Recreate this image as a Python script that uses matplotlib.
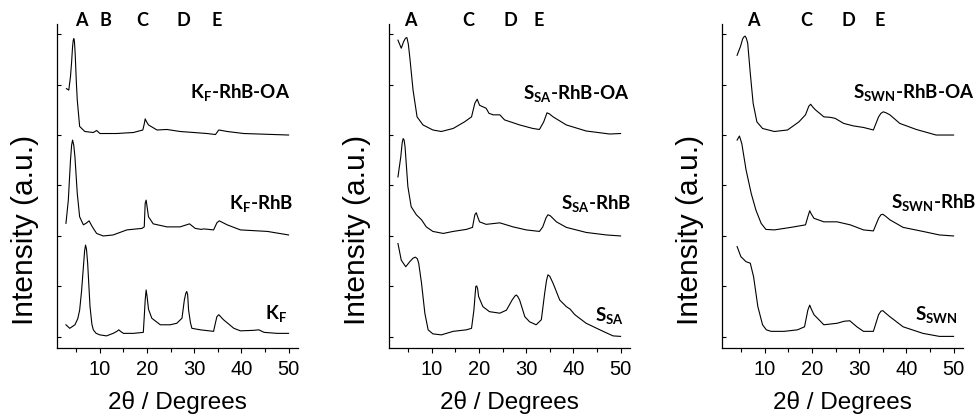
import matplotlib
matplotlib.use("Agg")
import matplotlib.pyplot as plt
from matplotlib.ticker import MultipleLocator
import matplotlib.transforms as mtransforms

# ---- data (2theta in degrees, intensity in a.u., curves already stacked) ----
kf_x = [2.8, 3.6, 4.7, 5.3, 5.7, 6.1, 6.5, 6.75, 6.95, 7.15, 7.4, 7.9, 8.3, 8.6, 9.2, 10, 11.4, 12.8,
        13.6, 14.0, 14.5, 15, 17.1, 19.2, 19.4, 19.6, 19.8, 20.0, 20.3, 21, 22.8, 24.9, 26.3, 27.4,
        27.9, 28.2, 28.4, 28.6, 28.8, 29.2, 29.5, 31.3, 34.1, 34.5, 34.8, 35.2, 36.2, 38.4,
        39.8, 42.6, 43.7, 44.8, 47.6, 50]
kf_y = [0.24, 0.17, 0.24, 0.36, 0.53, 0.90, 1.39, 1.70, 1.82, 1.74, 1.46, 0.60, 0.25, 0.14, 0.07,
        0.04, 0.02, 0.07, 0.11, 0.14, 0.10, 0.07, 0.07, 0.09, 0.40, 0.73, 0.93, 0.80, 0.55, 0.37,
        0.24, 0.24, 0.27, 0.37, 0.73, 0.86, 0.90, 0.84, 0.53, 0.28, 0.17, 0.14, 0.11, 0.28, 0.40,
        0.44, 0.34, 0.17, 0.12, 0.13, 0.14, 0.09, 0.07, 0.07]

kf_rhb_x = [2.8, 3.3, 3.76, 4.0, 4.2, 4.45, 4.7, 5.2, 5.7, 6.5, 7.2, 7.7, 8.4, 9.3, 10.7, 12.8, 15.7,
            18.9, 19.4, 19.6, 19.8, 20.0, 20.3, 21.3, 24.2, 27, 29, 30.2, 31.5, 32, 34.1, 34.5, 34.8,
            35.3, 37, 39.8, 45.5, 50]
kf_rhb_y = [2.25, 2.71, 3.50, 3.80, 3.90, 3.80, 3.57, 2.84, 2.38, 2.22, 2.26, 2.30, 2.18, 2.05, 2.00,
            2.02, 2.12, 2.15, 2.18, 2.65, 2.71, 2.58, 2.38, 2.24, 2.18, 2.18, 2.24, 2.15, 2.13, 2.14,
            2.12, 2.20, 2.26, 2.30, 2.22, 2.12, 2.09, 2.02]

kf_oa_x = [2.9, 3.4, 3.76, 4.0, 4.2, 4.35, 4.47, 4.6, 4.75, 5.0, 5.2, 5.7, 6.8, 8.6, 9.3, 10, 13.5,
           17.1, 19.1, 19.4, 19.6, 19.9, 20.3, 22.1, 24.2, 27, 29.9, 32.7, 34.5, 35.2, 37, 40.5, 50]
kf_oa_y = [4.92, 4.89, 5.16, 5.45, 5.75, 5.88, 5.91, 5.85, 5.62, 5.05, 4.69, 4.17, 4.07, 4.05, 4.09,
           4.03, 4.03, 4.05, 4.10, 4.22, 4.32, 4.26, 4.20, 4.10, 4.11, 4.07, 4.05, 4.03, 4.01, 4.10,
           4.07, 4.03, 4.00]

ssa_x = [2.8, 3.5, 4.45, 5.3, 6.0, 6.5, 6.9, 7.2, 7.8, 8.5, 9.2, 10.2, 12, 14.5, 17.3, 18.4, 18.9,
         19.3, 19.5, 19.7, 19.9, 20.8, 22.2, 24.4, 25.8, 27, 27.6, 27.9, 28.2, 28.6, 29.7, 30.7, 32.1,
         33.2, 33.9, 34.3, 34.6, 35.0, 35.7, 37.1, 38.5, 39.3, 40.3, 42.7, 46.3, 48.4, 50]
ssa_y = [1.85, 1.52, 1.39, 1.49, 1.56, 1.58, 1.55, 1.46, 1.06, 0.47, 0.14, 0.06, 0.04, 0.11, 0.14,
         0.17, 0.53, 1.00, 1.01, 0.95, 0.80, 0.60, 0.50, 0.47, 0.53, 0.73, 0.81, 0.83, 0.80, 0.73,
         0.40, 0.30, 0.24, 0.34, 0.86, 1.12, 1.23, 1.20, 1.06, 0.73, 0.60, 0.55, 0.44, 0.27, 0.11,
         0.02, 0.01]

ssa_rhb_x = [2.8, 3.4, 3.7, 3.9, 4.1, 4.3, 4.9, 5.6, 6.7, 7.8, 8.8, 10.2, 12.4, 14.5, 17.3, 18.6,
             19.1, 19.4, 19.7, 20.1, 21.5, 24.4, 27.2, 30, 32.8, 33.5, 34.2, 34.6, 35.1, 36.4, 38.5,
             42.7, 47, 50]
ssa_rhb_y = [3.17, 3.57, 3.85, 3.93, 3.90, 3.77, 2.98, 2.58, 2.42, 2.32, 2.18, 2.09, 2.05, 2.09,
             2.13, 2.17, 2.42, 2.46, 2.38, 2.28, 2.23, 2.26, 2.18, 2.12, 2.09, 2.18, 2.36, 2.42, 2.40,
             2.28, 2.17, 2.07, 2.02, 2.00]

ssa_oa_x = [2.8, 3.5, 4.0, 4.4, 4.7, 5.0, 5.3, 6.0, 6.85, 8.1, 10.2, 12, 14.5, 16.9, 18.4, 19.1,
            19.6, 20.1, 20.8, 21.5, 22.1, 23, 24.4, 25.4, 28.6, 31.4, 32.8, 33.7, 34.4, 34.9, 35.7,
            38.5, 42.7, 47.7, 50]
ssa_oa_y = [5.88, 5.72, 5.85, 5.92, 5.93, 5.80, 5.55, 4.89, 4.36, 4.20, 4.10, 4.07, 4.13, 4.26, 4.36,
            4.63, 4.71, 4.59, 4.56, 4.53, 4.43, 4.40, 4.40, 4.30, 4.20, 4.13, 4.11, 4.26, 4.44, 4.42,
            4.36, 4.20, 4.08, 4.02, 4.03]

sswn_x = [4.1, 4.9, 6.0, 6.9, 7.6, 8.5, 9.5, 10.3, 11.3, 14.1, 16.9, 18.4, 19.1, 19.5, 19.8, 20.4,
          22.5, 25.3, 26.8, 28, 29.5, 30.9, 33, 34.1, 34.6, 35, 35.6, 36.5, 39.3, 43.5, 47, 50]
sswn_y = [1.79, 1.59, 1.49, 1.46, 1.19, 0.60, 0.24, 0.14, 0.11, 0.11, 0.14, 0.20, 0.53, 0.63, 0.56,
          0.44, 0.24, 0.27, 0.31, 0.32, 0.20, 0.11, 0.11, 0.44, 0.51, 0.52, 0.47, 0.40, 0.20, 0.07,
          0.01, 0.01]

sswn_rhb_x = [4.1, 4.6, 5.1, 6.0, 7.1, 8.1, 9.2, 10.2, 12, 15.5, 18.6, 19.1, 19.5, 19.8, 20.4, 22.5,
              25.3, 28.1, 30.9, 33, 34.1, 34.6, 35, 35.6, 36.5, 39.3, 43.5, 47, 50]
sswn_rhb_y = [3.90, 3.98, 3.83, 3.31, 2.84, 2.51, 2.25, 2.13, 2.12, 2.17, 2.22, 2.38, 2.50, 2.44,
              2.35, 2.28, 2.28, 2.22, 2.12, 2.10, 2.35, 2.42, 2.43, 2.39, 2.32, 2.17, 2.09, 2.02, 2.00]

sswn_oa_x = [4.1, 4.8, 5.3, 5.6, 5.8, 6.05, 6.35, 6.9, 7.5, 8.3, 9.5, 12, 14.8, 17.2, 18.6, 19.3,
             19.7, 20.1, 20.7, 22.5, 23.9, 24.9, 26.7, 28.8, 30.9, 33, 34.1, 34.6, 35.1, 35.7, 36.5,
             38.6, 42.1, 46.3, 50]
sswn_oa_y = [5.58, 5.75, 5.91, 5.95, 5.96, 5.92, 5.82, 5.22, 4.63, 4.26, 4.13, 4.07, 4.10, 4.26, 4.40,
             4.57, 4.61, 4.56, 4.50, 4.36, 4.35, 4.33, 4.23, 4.18, 4.15, 4.10, 4.36, 4.43, 4.46, 4.44,
             4.40, 4.23, 4.11, 4.00, 4.00]

sample_labels = [
    ["K$_\\mathregular{F}$-RhB-OA", "K$_\\mathregular{F}$-RhB", "K$_\\mathregular{F}$"],
    ["S$_\\mathregular{SA}$-RhB-OA", "S$_\\mathregular{SA}$-RhB", "S$_\\mathregular{SA}$"],
    ["S$_\\mathregular{SWN}$-RhB-OA", "S$_\\mathregular{SWN}$-RhB", "S$_\\mathregular{SWN}$"],
]
label_x = [[50.4, 51.0, 49.6], [51.9, 52.3, 50.6], [54.4, 54.8, 50.8]]
label_y = [[4.83, 2.62, 0.45], [4.80, 2.62, 0.40], [4.83, 2.64, 0.42]]

peak_names = [["A", "B", "C", "D", "E"], ["A", "C", "D", "E"], ["A", "C", "D", "E"]]
peak_pos = [[6.0, 11.1, 18.9, 27.6, 34.7], [5.5, 17.8, 26.7, 32.6], [7.5, 18.8, 27.7, 34.4]]

curves = [
    [(kf_oa_x, kf_oa_y), (kf_rhb_x, kf_rhb_y), (kf_x, kf_y)],
    [(ssa_oa_x, ssa_oa_y), (ssa_rhb_x, ssa_rhb_y), (ssa_x, ssa_y)],
    [(sswn_oa_x, sswn_oa_y), (sswn_rhb_x, sswn_rhb_y), (sswn_x, sswn_y)],
]

plt.rcParams['font.family'] = ['Liberation Sans', 'DejaVu Sans']
bold_font = ['Lato', 'DejaVu Sans']

fig = plt.figure(figsize=(9.79, 4.18), dpi=100)
lefts = [57 / 979, 389 / 979, 722 / 979]

for i in range(3):
    ax = fig.add_axes([lefts[i], 70 / 418, 241 / 979, 324 / 418])
    for (xs, ys) in curves[i]:
        ax.plot(xs, ys, color='black', lw=0.8, solid_joinstyle='round')

    ax.set_xlim(0.9, 52)
    ax.set_ylim(-0.22, 6.2)
    ax.spines['top'].set_visible(False)
    ax.spines['right'].set_visible(False)
    for s in ['left', 'bottom']:
        ax.spines[s].set_linewidth(0.9)

    ax.xaxis.set_major_locator(MultipleLocator(10))
    ax.xaxis.set_minor_locator(MultipleLocator(5))
    ax.set_xticks([10, 20, 30, 40, 50])
    ax.tick_params(axis='x', which='major', direction='out', length=3.5, width=0.8,
                   labelsize=14.5, pad=5)
    ax.tick_params(axis='x', which='minor', direction='out', length=3, width=0.8)
    ax.yaxis.set_major_locator(MultipleLocator(1))
    ax.tick_params(axis='y', which='major', direction='in', length=3, width=0.8,
                   labelleft=False)

    ax.text(0.5, -0.167, "2\u03b8 / Degrees", transform=ax.transAxes, ha='center', va='center',
            fontsize=17.5)
    ax.text(-32 / 241, 0.365, "Intensity (a.u.)", transform=ax.transAxes, ha='center', va='center',
            rotation=90, fontsize=21.5)

    trans = mtransforms.blended_transform_factory(ax.transData, ax.transAxes)
    for name, pos in zip(peak_names[i], peak_pos[i]):
        ax.text(pos, 1.01, name, transform=trans, ha='center', va='center', fontsize=13,
                fontweight='bold', family=bold_font, clip_on=False)

    for lab, lx, ly in zip(sample_labels[i], label_x[i], label_y[i]):
        ax.text(lx, ly, lab, ha='right', va='center', fontsize=13.5, fontweight='bold',
                family=bold_font, clip_on=False)

fig.savefig("out.png", dpi=100)
